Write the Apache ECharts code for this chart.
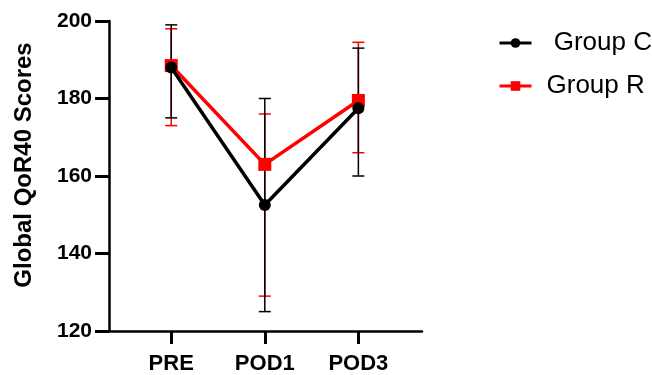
<!DOCTYPE html>
<html>
<head>
<meta charset="utf-8">
<script src="https://cdn.jsdelivr.net/npm/echarts@6/dist/echarts.min.js"></script>
<style>html,body{margin:0;padding:0;background:#fff;}#c{width:652px;height:375px;}</style>
</head>
<body>
<div id="c"></div>
<script>
var categories = ['PRE', 'POD1', 'POD3'];
var groupCMean = [188, 152.5, 177.5];
var groupCUpper = [199, 180, 193];
var groupCLower = [175, 125, 160];
var groupRMean = [188.5, 163, 179.5];
var groupRUpper = [198, 176, 194.5];
var groupRLower = [173, 129, 166];
var yTicks = [120, 140, 160, 180, 200];

var FONT = '"Liberation Sans", Arial, sans-serif';

function pts(vals) { return vals.map(function (v, i) { return [i, v]; }); }
function bars(lo, hi) { return lo.map(function (v, i) { return [i, v, hi[i]]; }); }

function errRender(color, lw) {
  return function (params, api) {
    var x = api.value(0), lo = api.value(1), hi = api.value(2);
    var a = api.coord([x, lo]), b = api.coord([x, hi]);
    var w = 6;
    var st = { stroke: color, lineWidth: lw };
    return {
      type: 'group',
      children: [
        { type: 'line', shape: { x1: a[0], y1: a[1], x2: b[0], y2: b[1] }, style: st },
        { type: 'line', shape: { x1: a[0] - w, y1: a[1], x2: a[0] + w, y2: a[1] }, style: st },
        { type: 'line', shape: { x1: b[0] - w, y1: b[1], x2: b[0] + w, y2: b[1] }, style: st }
      ]
    };
  };
}

var chart = echarts.init(document.getElementById('c'));
chart.setOption({
  animation: false,
  backgroundColor: '#fff',
  grid: { left: 109, right: 230, top: 21, bottom: 42 },
  legend: {
    orient: 'vertical',
    left: 493,
    top: 25,
    itemWidth: 32,
    itemHeight: 12,
    itemGap: 17,
    data: ['Group C', 'Group R'],
    lineStyle: { width: 3 },
    formatter: function (n) { return n === 'Group C' ? ' Group C' : n; },
    textStyle: { fontFamily: FONT, fontSize: 26, color: '#000', lineHeight: 26, padding: [0, 0, 0, 10] }
  },
  xAxis: {
    type: 'value',
    position: 'bottom',
    min: -0.665,
    max: 2.68,
    splitLine: { show: false },
    axisLine: { show: true, onZero: false, lineStyle: { color: '#000', width: 2.5 } },
    axisTick: { show: true, inside: false, length: 13, customValues: [0, 1, 2], lineStyle: { color: '#000000', width: 3 } },
    axisLabel: {
      customValues: [0, 1, 2],
      formatter: function (v) { return categories[Math.round(v)]; },
      fontFamily: FONT, fontSize: 22, fontWeight: 'bold', color: '#000', margin: 22
    }
  },
  yAxis: {
    type: 'value',
    position: 'left',
    min: 120,
    max: 200,
    interval: 20,
    name: 'Global QoR40 Scores',
    nameLocation: 'middle',
    nameGap: 73,
    nameTextStyle: { fontFamily: FONT, fontSize: 24, fontWeight: 'bold', color: '#000', padding: [0, 0, 0, 22] },
    splitLine: { show: false },
    axisLine: { show: true, onZero: false, lineStyle: { color: '#000', width: 2.5 } },
    axisTick: { show: true, inside: false, length: 14, lineStyle: { color: '#000000', width: 3 } },
    axisLabel: {
      formatter: function (v) { return yTicks.indexOf(v) >= 0 ? String(v) : ''; },
      fontFamily: FONT, fontSize: 21, fontWeight: 'bold', color: '#000', margin: 17
    }
  },
  series: [
    {
      name: 'errR', type: 'custom',
      renderItem: errRender('#ff0000', 1.5),
      encode: { x: 0, y: [1, 2] },
      data: bars(groupRLower, groupRUpper)
    },
    {
      name: 'errC', type: 'custom',
      renderItem: errRender('#000000', 1.5),
      encode: { x: 0, y: [1, 2] },
      data: bars(groupCLower, groupCUpper)
    },
    {
      name: 'Group R', type: 'line',
      symbol: 'rect', symbolSize: 13,
      lineStyle: { color: '#ff0000', width: 3.5 },
      itemStyle: { color: '#ff0000' },
      data: pts(groupRMean)
    },
    {
      name: 'Group C', type: 'line',
      symbol: 'circle', symbolSize: 12,
      lineStyle: { color: '#000000', width: 3.5 },
      itemStyle: { color: '#000000' },
      data: pts(groupCMean)
    }
  ]
});
</script>
</body>
</html>
